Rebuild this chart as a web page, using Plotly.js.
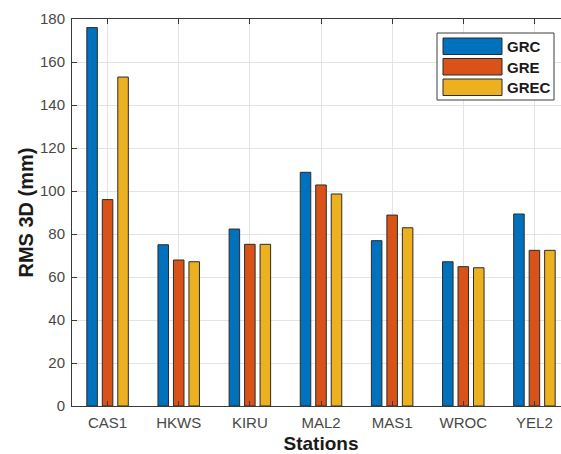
<!DOCTYPE html>
<html>
<head>
<meta charset="utf-8">
<script src="https://cdn.plot.ly/plotly-3.0.1.min.js"></script>
<style>
  html, body { margin: 0; padding: 0; overflow: hidden; background: #ffffff; }
  #chart { width: 600px; height: 454px; }
</style>
</head>
<body>
<div id="chart"></div>
<script>
// RMS 3D positioning error per station for three GNSS constellation combinations
const stations = ['CAS1', 'HKWS', 'KIRU', 'MAL2', 'MAS1', 'WROC', 'YEL2'];
const seriesNames = ['GRC', 'GRE', 'GREC'];
const grcValues  = [176, 75.0, 82.3, 108.7, 76.9, 67.1, 89.3];
const greValues  = [96.0, 67.9, 75.2, 102.8, 88.8, 64.8, 72.4];
const grecValues = [153, 67.1, 75.2, 98.6, 82.9, 64.3, 72.4];
const yTicks = [0, 20, 40, 60, 80, 100, 120, 140, 160, 180];

const colors = ['#0072BD', '#D95319', '#EDB120'];
const edge = '#2b2b2b';
const seriesValues = [grcValues, greValues, grecValues];

const traces = seriesValues.map((vals, i) => ({
  type: 'bar',
  name: seriesNames[i],
  x: stations,
  y: vals,
  marker: { color: colors[i], line: { color: edge, width: 1 } },
  showlegend: false,
  hoverinfo: 'x+y+name'
}));

// plot area in pixels: x 72..570, y 19..406
const W = 600, H = 454;
const M = { l: 72, r: 30, t: 19, b: 48 };
const pw = W - M.l - M.r, ph = H - M.t - M.b;
const px = x => (x - M.l) / pw;
const py = y => (H - M.b - y) / ph;

// boxed legend with wide swatches in the upper right corner
const shapes = [{
  type: 'rect', xref: 'paper', yref: 'paper',
  x0: px(437), x1: px(554), y0: py(100), y1: py(33),
  fillcolor: '#ffffff', line: { color: '#3c3c3c', width: 1 }, layer: 'above'
}];
const annotations = [];
const rowTop = [38, 58.5, 79];
seriesNames.forEach((name, i) => {
  shapes.push({
    type: 'rect', xref: 'paper', yref: 'paper',
    x0: px(443), x1: px(502), y0: py(rowTop[i] + 16.5), y1: py(rowTop[i]),
    fillcolor: colors[i], line: { color: edge, width: 1 }, layer: 'above'
  });
  annotations.push({
    xref: 'paper', yref: 'paper', x: px(505), y: py(rowTop[i] + 8.5),
    xanchor: 'left', yanchor: 'middle', showarrow: false,
    text: '<b>' + name + '</b>',
    font: { family: 'Liberation Sans, Arial, sans-serif', size: 15, color: '#1a1a1a' }
  });
});

const layout = {
  width: W, height: H,
  margin: M,
  paper_bgcolor: '#ffffff',
  plot_bgcolor: '#ffffff',
  barmode: 'group',
  bargap: 0.347,
  bargroupgap: 0.32,
  font: { family: 'Liberation Sans, Arial, sans-serif', size: 15, color: '#474747' },
  xaxis: {
    type: 'category',
    range: [-0.5, 6.5],
    showgrid: true, gridcolor: '#e3e3e3', gridwidth: 1,
    showline: true, linecolor: '#3a3a3a', linewidth: 1, mirror: 'ticks',
    ticks: 'inside', ticklen: 5, tickcolor: '#3a3a3a',
    ticklabelstandoff: 3,
    tickfont: { size: 15, color: '#474747' },
    title: { text: '<b>Stations</b>', standoff: 7,
             font: { size: 19, color: '#1a1a1a' } },
    automargin: false
  },
  yaxis: {
    range: [0, 180],
    tickvals: yTicks,
    ticktext: yTicks.map(String),
    showgrid: true, gridcolor: '#e3e3e3', gridwidth: 1,
    zeroline: false,
    showline: true, linecolor: '#3a3a3a', linewidth: 1, mirror: 'ticks',
    ticks: 'inside', ticklen: 5, tickcolor: '#3a3a3a',
    ticklabelstandoff: 3,
    tickfont: { size: 15, color: '#474747' },
    title: { text: '<b>RMS 3D (mm)</b>', standoff: 0,
             font: { size: 20, color: '#1a1a1a' } },
    automargin: false
  },
  shapes: shapes,
  annotations: annotations
};

Plotly.newPlot('chart', traces, layout, { displayModeBar: false, staticPlot: true });
</script>
</body>
</html>
